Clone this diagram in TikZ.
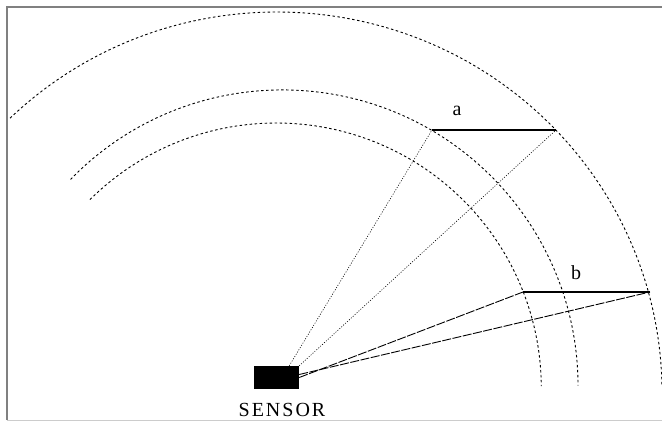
\documentclass[tikz,border=0pt]{standalone}
\usepackage{fontspec}
\setmainfont{Liberation Serif}
\newfontfamily\spacedfont[LetterSpace=10]{Liberation Serif}
\tikzstyle{sensorbox}=[rectangle, fill=black, inner sep=0pt, minimum width=45pt, minimum height=23pt]
\tikzstyle{label}=[font=\fontsize{20}{22}\selectfont, inner sep=0pt]
\tikzstyle{arc}=[line width=0.9pt, dash pattern=on 2.5pt off 2.5pt]
\tikzstyle{ray}=[line width=0.6pt, dash pattern=on 1pt off 1.6pt]
\tikzstyle{longray}=[line width=0.9pt, dash pattern=on 9pt off 1.5pt]
\tikzstyle{target}=[line width=2.4pt]
\tikzstyle{frame}=[line width=2pt, black!50]
\begin{document}
\begin{tikzpicture}[x=1pt, y=-1pt]
    \useasboundingbox (0, 0) rectangle (662, 421);
    \draw[frame] (662, 7) -- (6.5, 7) -- (6.5, 420);
    \draw[black!20, line width=1pt] (6.5, 420.5) -- (662, 420.5);
    \node[sensorbox] (sensor) at (276.5, 377.5) {};
    \node[label, font=\spacedfont\fontsize{20}{22}\selectfont] (name) at (282, 410) {SENSOR};
    \coordinate (a1) at (432, 130);
    \coordinate (a2) at (556, 130);
    \coordinate (b1) at (523, 292);
    \coordinate (b2) at (650, 292);
    \coordinate (outer) at (277, 392);
    \coordinate (middle) at (282.4, 385.5);
    \coordinate (inner) at (276.3, 388);
    \node[label] (la) at (457, 111) {a};
    \node[label] (lb) at (576, 273) {b};
    % range arcs
    \draw[arc] ([shift={(outer)}] 133.9:385pt and 380pt) arc[start angle=133.9, end angle=0.8, x radius=385pt, y radius=380pt];
    \draw[arc] ([shift={(middle)}] 135.8:295.6pt) arc[start angle=135.8, end angle=0, radius=295.6pt];
    \draw[arc] ([shift={(inner)}] 134.7:265pt) arc[start angle=134.7, end angle=0.4, radius=265pt];
    \draw[ray] ([xshift=-10pt]sensor.north east) -- (a1);
    \draw[ray] (sensor.north east) -- (a2);
    \draw[longray] (sensor.east) -- (b1);
    \draw[longray] ([yshift=3pt]sensor.east) -- (b2);
    \draw[target] (a1) -- (a2);
    \draw[target] (b1) -- (b2);
\end{tikzpicture}
\end{document}
